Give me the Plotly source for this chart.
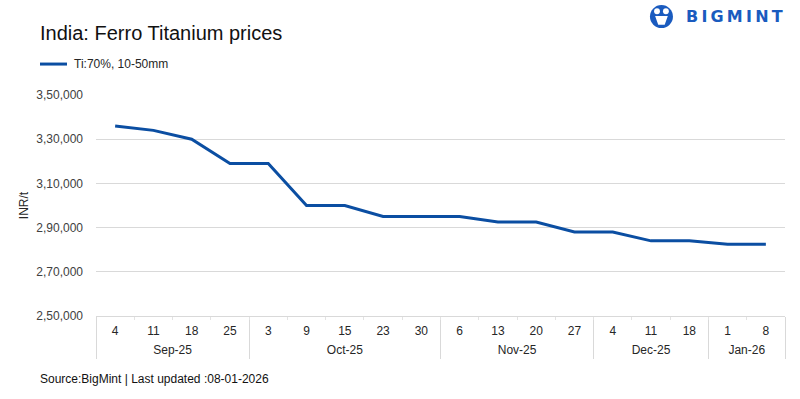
import plotly.graph_objects as go

months = ["Sep-25"] * 4 + ["Oct-25"] * 5 + ["Nov-25"] * 4 + ["Dec-25"] * 3 + ["Jan-26"] * 2
days = ["4", "11", "18", "25", "3", "9", "15", "23", "30", "6", "13", "20", "27", "4", "11", "18", "1", "8"]
prices = [336000, 334000, 330000, 319000, 319000, 300000, 300000, 295000, 295000, 295000,
          292500, 292500, 288000, 288000, 284000, 284000, 282500, 282500]
series_name = "Ti:70%, 10-50mm"
y_ticks = [250000, 270000, 290000, 310000, 330000, 350000]
y_tick_text = ["2,50,000", "2,70,000", "2,90,000", "3,10,000", "3,30,000", "3,50,000"]

BLUE = "#0B4EA2"
LOGO = "#1a5bbf"
TXT = "#404040"
GRID = "#d9d9d9"
FONT = "Liberation Sans"

idx = list(range(len(days)))
# month groups derived from the category list
groups = []
for i, m in enumerate(months):
    if not groups or groups[-1][0] != m:
        groups.append([m, i, i])
    else:
        groups[-1][2] = i
month_names = [g[0] for g in groups]
month_centers = [(g[1] + g[2]) / 2 for g in groups]
month_bounds = [groups[0][1] - 0.5] + [g[2] + 0.5 for g in groups]
day_bounds = [i + 0.5 for i in idx[:-1]]
xr = [-0.5, len(days) - 0.5]

fig = go.Figure()
fig.add_trace(go.Scatter(
    x=idx, y=prices, mode="lines", name=series_name,
    line=dict(color=BLUE, width=3), showlegend=False,
))
# invisible helper traces so the overlaying label/divider axes are drawn
for ax in ("x2", "x3", "x4"):
    fig.add_trace(go.Scatter(x=xr, y=[prices[-1], prices[-1]], xaxis=ax, mode="lines",
                             line=dict(width=0, color="rgba(0,0,0,0)"), opacity=0,
                             hoverinfo="skip", showlegend=False))

common = dict(range=xr, showgrid=False, zeroline=False, fixedrange=True)
fig.update_layout(
    width=800, height=399,
    margin=dict(l=96, r=15, t=95, b=83),
    paper_bgcolor="white", plot_bgcolor="white",
    font=dict(family=FONT, color=TXT, size=12),
    hovermode=False,
    xaxis=dict(
        **common, tickmode="array", tickvals=idx, ticktext=days,
        showline=True, linecolor=GRID, linewidth=1, ticks="",
        ticklabelstandoff=4,
        tickfont=dict(family=FONT, size=12, color="#262626"),
    ),
    xaxis2=dict(
        **common, overlaying="x", anchor="y", side="bottom",
        tickmode="array", tickvals=month_centers, ticktext=month_names,
        ticks="", showline=False, ticklabelstandoff=25,
        tickfont=dict(family=FONT, size=12, color="#262626"),
    ),
    xaxis3=dict(
        **common, overlaying="x", anchor="y", side="bottom",
        tickmode="array", tickvals=month_bounds, ticks="outside", ticklen=42,
        tickcolor=GRID, tickwidth=1, showticklabels=False, showline=False,
    ),
    xaxis4=dict(
        **common, overlaying="x", anchor="y", side="bottom",
        tickmode="array", tickvals=day_bounds, ticks="outside", ticklen=3,
        tickcolor="#e3e3e3", tickwidth=1, showticklabels=False, showline=False,
    ),
    yaxis=dict(
        range=[250000, 350000], fixedrange=True,
        tickvals=y_ticks, ticktext=y_tick_text,
        showgrid=True, gridcolor=GRID, gridwidth=1,
        zeroline=False, showline=False,
        ticks="", ticklabelstandoff=12,
        tickfont=dict(family=FONT, size=12, color=TXT),
        title=dict(text="INR/t", font=dict(family=FONT, size=12, color="#262626"), standoff=5),
    ),
)

# Title
fig.add_annotation(text="India: Ferro Titanium prices", xref="paper", yref="paper",
                   x=-0.0842, y=1.28, xanchor="left", yanchor="middle", showarrow=False,
                   font=dict(family=FONT, size=20, color="#111111"))
# Legend (drawn as line + text)
fig.add_shape(type="line", xref="paper", yref="paper", x0=-0.0813, x1=-0.0421, y0=1.14, y1=1.14,
              line=dict(color=BLUE, width=3))
fig.add_annotation(text=series_name, xref="paper", yref="paper", x=-0.0348, y=1.14,
                   xanchor="left", yanchor="middle", showarrow=False,
                   font=dict(family=FONT, size=12, color="#262626"))
# Source
fig.add_annotation(text="Source:BigMint | Last updated :08-01-2026", xref="paper", yref="paper",
                   x=-0.0842, y=-0.285, xanchor="left", yanchor="middle", showarrow=False,
                   font=dict(family=FONT, size=12, color="#111111"))
# Logo
fig.add_shape(type="circle", xref="paper", yref="paper", x0=0.804, x1=0.8374, y0=1.303, y1=1.407,
              line=dict(width=0), fillcolor=LOGO)
fig.add_shape(type="circle", xref="paper", yref="paper", x0=0.810, x1=0.8185, y0=1.365, y1=1.392,
              line=dict(width=0), fillcolor="white")
fig.add_shape(type="circle", xref="paper", yref="paper", x0=0.8229, x1=0.8314, y0=1.365, y1=1.392,
              line=dict(width=0), fillcolor="white")
fig.add_shape(type="path", xref="paper", yref="paper",
              path="M 0.8115 1.357 L 0.8207 1.357 L 0.8207 1.318 L 0.8160 1.318 Z M 0.8299 1.357 L 0.8207 1.357 L 0.8207 1.318 L 0.8254 1.318 Z",
              line=dict(width=0), fillcolor="white")
fig.add_annotation(text="<b>B\u2009I\u2009G\u2009M\u2009I\u2009N\u2009T</b>", xref="paper", yref="paper",
                   x=1.0, y=1.355, xanchor="right", yanchor="middle", showarrow=False,
                   font=dict(family="DejaVu Sans", size=16, color=LOGO))

fig.write_html("out.html", config={"displayModeBar": False},
               post_script="document.body.style.margin='0';")
